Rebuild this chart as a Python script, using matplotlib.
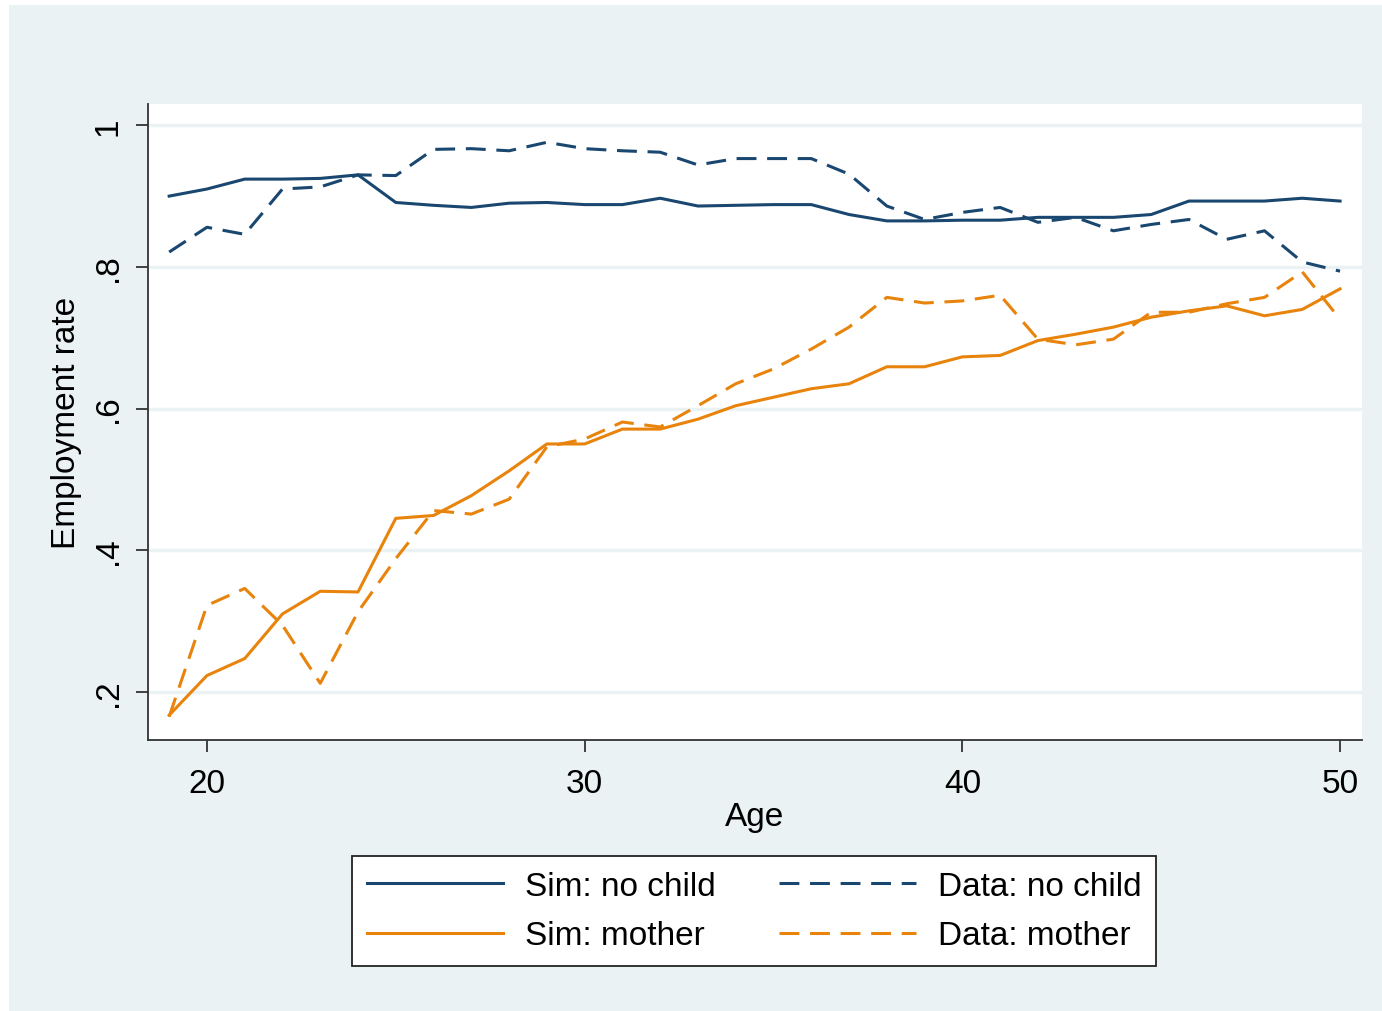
import matplotlib
matplotlib.use("Agg")
import matplotlib.pyplot as plt
from matplotlib.patches import Rectangle

plt.rcParams['font.family'] = ['Liberation Sans', 'DejaVu Sans']

# ages and employment rates
age = list(range(19, 51))

sim_nochild = [0.900, 0.910, 0.924, 0.924, 0.925, 0.930, 0.891, 0.887, 0.884, 0.890,
               0.891, 0.888, 0.888, 0.897, 0.886, 0.887, 0.888, 0.888, 0.874, 0.865,
               0.865, 0.866, 0.866, 0.870, 0.870, 0.870, 0.874, 0.893, 0.893, 0.893,
               0.897, 0.893]
data_nochild = [0.821, 0.856, 0.846, 0.910, 0.913, 0.930, 0.929, 0.966, 0.967, 0.964,
                0.976, 0.967, 0.964, 0.962, 0.944, 0.953, 0.953, 0.953, 0.931, 0.886,
                0.867, 0.877, 0.884, 0.863, 0.870, 0.851, 0.860, 0.867, 0.839, 0.851,
                0.807, 0.794]
sim_mother = [0.167, 0.223, 0.247, 0.310, 0.342, 0.341, 0.445, 0.449, 0.477, 0.512,
              0.550, 0.550, 0.571, 0.571, 0.585, 0.604, 0.616, 0.628, 0.635, 0.659,
              0.659, 0.673, 0.675, 0.696, 0.705, 0.715, 0.729, 0.738, 0.745, 0.731,
              0.740, 0.769]
data_mother = [0.165, 0.322, 0.346, 0.294, 0.212, 0.313, 0.388, 0.456, 0.451, 0.472,
               0.546, 0.557, 0.581, 0.574, 0.604, 0.635, 0.656, 0.684, 0.715, 0.757,
               0.749, 0.752, 0.760, 0.698, 0.690, 0.698, 0.736, 0.736, 0.748, 0.757,
               0.793, 0.726]

xticks = [20, 30, 40, 50]
yticks = [0.2, 0.4, 0.6, 0.8, 1.0]
ytick_labels = ['.2', '.4', '.6', '.8', '1']

navy = '#1a476f'
orange = '#e8830c'
bg = '#eaf2f3'

fig = plt.figure(figsize=(13.82, 10.12), dpi=100)
fig.patches.append(Rectangle((9 / 1382, 0.0), 1 - 9 / 1382, 1 - 6 / 1012,
                             transform=fig.transFigure, facecolor=bg,
                             edgecolor='none', zorder=-10))

ax = fig.add_axes([0.1071, 0.2678, 0.8784, 0.6284])
ax.set_facecolor('white')

for y in yticks:
    ax.axhline(y, color=bg, lw=2.5, zorder=0)

lw = 2.2
dash = (6.5, 3.5)
ax.plot(age, sim_nochild, color=navy, lw=lw, label='Sim: no child')
ax.plot(age, data_nochild, color=navy, lw=lw, dashes=dash, label='Data: no child')
ax.plot(age, sim_mother, color=orange, lw=lw, label='Sim: mother')
ax.plot(age, data_mother, color=orange, lw=lw, dashes=dash, label='Data: mother')

ax.set_xlim(18.44, 50.58)
ax.set_ylim(0.132, 1.03)

for s in ['top', 'right']:
    ax.spines[s].set_visible(False)
for s in ['left', 'bottom']:
    ax.spines[s].set_color('#333333')
    ax.spines[s].set_linewidth(1.3)

ax.set_xticks(xticks)
ax.set_yticks(yticks)
ax.set_yticklabels(ytick_labels, rotation=90, va='center')
ax.tick_params(axis='both', direction='out', length=8.5, width=1.3,
               color='#333333', labelsize=24, pad=9)
ax.tick_params(axis='x', pad=12)

ax.set_xlabel('Age', fontsize=24, labelpad=1)
ax.set_ylabel('Employment rate', fontsize=24, labelpad=8)

# legend rows: sim/data no child, then sim/data mother
h, l = ax.get_legend_handles_labels()
order = [0, 2, 1, 3]
leg = fig.legend([h[i] for i in order], [l[i] for i in order], ncol=2,
                 loc='center', bbox_to_anchor=(0.5456, 0.0988),
                 fontsize=24, frameon=True, fancybox=False, framealpha=1,
                 handlelength=4.1, handletextpad=0.65, columnspacing=1.9,
                 labelspacing=0.55, borderpad=0.45)
leg.get_frame().set_edgecolor('#222222')
leg.get_frame().set_linewidth(1.3)

fig.savefig('out.png', dpi=100)
